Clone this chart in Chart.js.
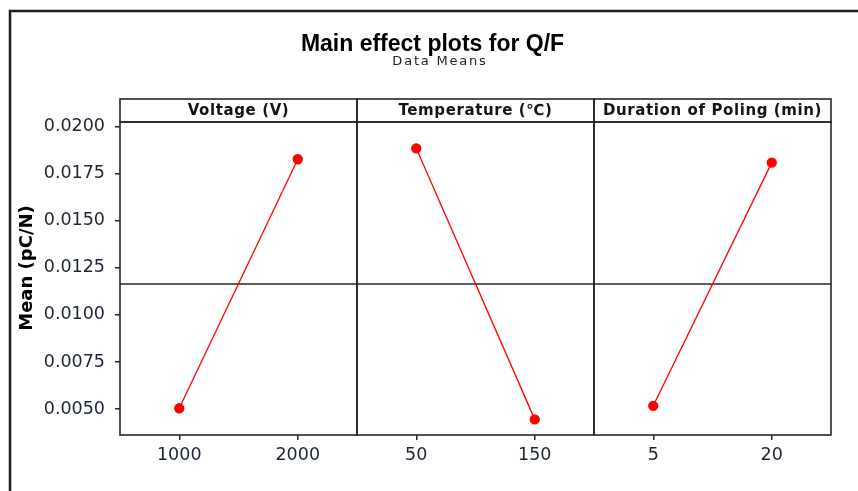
<!DOCTYPE html>
<html>
<head>
<meta charset="utf-8">
<title>Main effect plots for Q/F</title>
<script src="https://cdn.jsdelivr.net/npm/chart.js@4.4.1/dist/chart.umd.min.js"></script>
<style>
    html, body { margin: 0; padding: 0; background: #fff; }
    #wrap { width: 858px; height: 491px; }
</style>
</head>
<body>
<div id="wrap"><canvas id="effectsChart" width="858" height="491"></canvas></div>
<script>
// factor levels and data means of Q/F
const voltageLevels = ["1000", "2000"];
const voltageMeans = [0.00504, 0.01827];
const tempLevels = ["50", "150"];
const tempMeans = [0.01885, 0.00445];
const durationLevels = ["5", "20"];
const durationMeans = [0.00517, 0.01809];

const panelTitles = ["Voltage (V)", "Temperature (℃)", "Duration of Poling (min)"];
const yTicks = [0.0050, 0.0075, 0.0100, 0.0125, 0.0150, 0.0175, 0.0200];

// overall mean drawn as the horizontal reference line
const allMeans = voltageMeans.concat(tempMeans, durationMeans);
const grandMean = allMeans.reduce((a, b) => a + b, 0) / allMeans.length;

const panelIds = ["xVolt", "xTemp", "xDur"];
const lineCol = "#262626";
const tickFont = { family: "'DejaVu Sans', Verdana, sans-serif", size: 17.5 };

// frame, panel boxes, headers, reference line, subtitle and y title
const panelDecor = {
    id: "panelDecor",
    beforeDatasetsDraw(chart) {
        const ctx = chart.ctx;
        const area = chart.chartArea;
        const y = chart.scales.y.getPixelForValue(grandMean);
        ctx.save();
        ctx.strokeStyle = lineCol;
        ctx.lineWidth = 1.5;
        ctx.beginPath();
        ctx.moveTo(area.left, y);
        ctx.lineTo(area.right, y);
        ctx.stroke();
        ctx.restore();
    },
    afterDraw(chart) {
        const ctx = chart.ctx;
        const area = chart.chartArea;
        const headH = 23;
        ctx.save();

        // outer frame
        ctx.strokeStyle = "#1e1e1e";
        ctx.lineWidth = 2.5;
        ctx.strokeRect(10, 11, 900, 600);

        // panels + header boxes
        ctx.strokeStyle = lineCol;
        ctx.lineWidth = 1.6;
        panelIds.forEach((id, i) => {
            const s = chart.scales[id];
            ctx.strokeRect(s.left, area.top, s.right - s.left, area.bottom - area.top);
            ctx.strokeRect(s.left, area.top - headH, s.right - s.left, headH);

            ctx.fillStyle = "#141414";
            ctx.font = "bold 15px 'DejaVu Sans', Verdana, sans-serif";
            ctx.letterSpacing = "0.6px";
            ctx.textAlign = "center";
            ctx.textBaseline = "middle";
            ctx.fillText(panelTitles[i], (s.left + s.right) / 2, area.top - headH / 2 + 1);
        });

        // subtitle
        ctx.fillStyle = "#222";
        ctx.font = "13px 'DejaVu Sans', Verdana, sans-serif";
        ctx.letterSpacing = "1.8px";
        ctx.textAlign = "center";
        ctx.textBaseline = "middle";
        ctx.fillText("Data Means", 440, 62);

        // y axis title
        ctx.letterSpacing = "0px";
        ctx.translate(27, 268);
        ctx.rotate(-Math.PI / 2);
        ctx.fillStyle = "#000";
        ctx.font = "bold 18px 'DejaVu Sans', Verdana, sans-serif";
        ctx.fillText("Mean (pC/N)", 0, 0);
        ctx.restore();
    }
};

function xAxis(levels) {
    return {
        type: "category",
        position: "bottom",
        stack: "panels",
        stackWeight: 1,
        labels: levels,
        offset: true,
        border: { display: false },
        grid: { drawOnChartArea: false, drawTicks: true, tickLength: 5, color: lineCol, lineWidth: 1.5 },
        ticks: { color: "#1c2433", font: tickFont, padding: 5, maxRotation: 0 },
        afterFit(scale) { scale.height = 56; }
    };
}

function series(means, axisId) {
    return {
        data: means,
        xAxisID: axisId,
        yAxisID: "y",
        borderColor: "#ff0000",
        backgroundColor: "#ff0000",
        borderWidth: 1.3,
        pointRadius: 4.5,
        pointHoverRadius: 4.5,
        pointStyle: "circle",
        tension: 0
    };
}

new Chart(document.getElementById("effectsChart"), {
    type: "line",
    data: {
        datasets: [
            series(voltageMeans, "xVolt"),
            series(tempMeans, "xTemp"),
            series(durationMeans, "xDur")
        ]
    },
    options: {
        responsive: false,
        animation: false,
        devicePixelRatio: 1,
        layout: { padding: { left: 34, right: 27, top: 0, bottom: 0 } },
        plugins: {
            legend: { display: false },
            tooltip: { enabled: false },
            title: {
                display: true,
                text: "Main effect plots for Q/F",
                color: "#000",
                font: { family: "'Liberation Sans', Arial, sans-serif", size: 23, weight: "bold" },
                padding: { top: 31, bottom: 63.4 }
            }
        },
        scales: {
            xVolt: xAxis(voltageLevels),
            xTemp: xAxis(tempLevels),
            xDur: xAxis(durationLevels),
            y: {
                type: "linear",
                position: "left",
                min: 0.00362,
                max: 0.02025,
                border: { display: false },
                grid: { drawOnChartArea: false, drawTicks: true, tickLength: 5, color: lineCol, lineWidth: 1.5 },
                ticks: {
                    color: "#1c2433",
                    font: tickFont,
                    padding: 10,
                    callback: (v) => v.toFixed(4)
                },
                afterBuildTicks(scale) {
                    scale.ticks = yTicks.map(v => ({ value: v }));
                },
                afterFit(scale) { scale.width = 86; }
            }
        }
    },
    plugins: [panelDecor]
});
</script>
</body>
</html>
